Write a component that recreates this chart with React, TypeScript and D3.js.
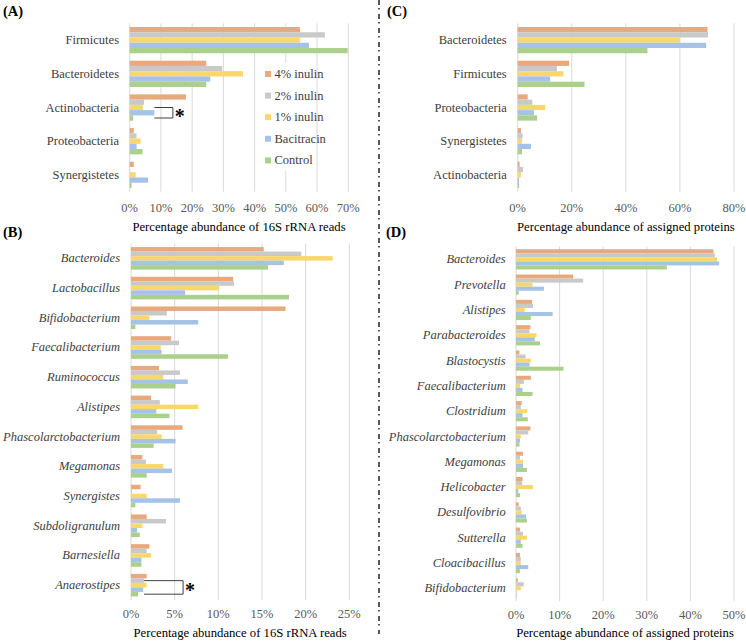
import React from "react";
import * as d3 from "d3";

const series = ["4% inulin", "2% inulin", "1% inulin", "Bacitracin", "Control"];
const colors = ["#E8A97C", "#C9C9C9", "#F9D76B", "#A5C2E7", "#ABD08C"];

const catA = ["Firmicutes", "Bacteroidetes", "Actinobacteria", "Proteobacteria", "Synergistetes"];
const valA = [
  [54.5, 62.5, 54.5, 57.4, 69.8],
  [24.5, 29.6, 36.3, 25.8, 24.5],
  [18.0, 4.6, 4.2, 7.9, 1.1],
  [1.3, 2.2, 3.5, 2.2, 4.1],
  [1.3, 0.1, 1.9, 5.9, 0.6],
];
const ticksA = [0, 10, 20, 30, 40, 50, 60, 70];

const catB = ["Bacteroides", "Lactobacillus", "Bifidobacterium", "Faecalibacterium", "Ruminococcus", "Alistipes", "Phascolarctobacterium", "Megamonas", "Synergistes", "Subdoligranulum", "Barnesiella", "Anaerostipes"];
const valB = [
  [15.2, 19.5, 23.1, 17.5, 15.7],
  [11.7, 11.8, 10.1, 6.2, 18.1],
  [17.7, 4.1, 2.1, 7.7, 0.5],
  [4.6, 5.5, 3.4, 3.5, 11.1],
  [3.2, 5.6, 3.7, 6.5, 5.1],
  [2.3, 3.3, 7.7, 2.9, 4.4],
  [5.9, 3.0, 3.5, 5.1, 2.6],
  [1.3, 1.7, 3.7, 4.7, 1.8],
  [1.1, 0.1, 1.8, 5.6, 0.5],
  [1.8, 4.0, 1.3, 0.7, 1.0],
  [2.1, 1.8, 2.3, 1.2, 1.2],
  [1.8, 1.5, 1.8, 1.4, 0.8],
];
const ticksB = [0, 5, 10, 15, 20, 25];

const catC = ["Bacteroidetes", "Firmicutes", "Proteobacteria", "Synergistetes", "Actinobacteria"];
const valC = [
  [70.2, 70.4, 60.0, 69.7, 48.0],
  [19.0, 14.5, 16.9, 12.0, 24.7],
  [3.7, 5.4, 10.2, 6.0, 7.2],
  [1.2, 1.8, 1.6, 4.9, 1.6],
  [0.7, 2.0, 1.2, 0.5, 0.5],
];
const ticksC = [0, 20, 40, 60, 80];

const catD = ["Bacteroides", "Prevotella", "Alistipes", "Parabacteroides", "Blastocystis", "Faecalibacterium", "Clostridium", "Phascolarctobacterium", "Megamonas", "Helicobacter", "Desulfovibrio", "Sutterella", "Cloacibacillus", "Bifidobacterium"];
const valD = [
  [45.3, 45.6, 46.1, 46.6, 34.6],
  [13.1, 15.4, 3.8, 6.4, 0.6],
  [3.7, 3.9, 2.0, 8.4, 3.4],
  [3.3, 3.1, 4.7, 4.3, 5.5],
  [0.8, 2.2, 3.4, 3.1, 10.9],
  [3.4, 1.8, 0.9, 1.5, 3.8],
  [1.3, 1.1, 2.6, 1.5, 2.7],
  [3.3, 2.8, 1.1, 0.9, 0.8],
  [1.6, 0.9, 1.6, 1.6, 2.5],
  [1.5, 1.4, 3.9, 0.5, 0.9],
  [0.6, 1.1, 1.3, 2.3, 2.5],
  [0.9, 1.6, 2.5, 1.1, 1.5],
  [0.9, 1.1, 1.1, 2.8, 0.9],
  [0.4, 1.8, 1.1, 0.1, 0.1],
];
const ticksD = [0, 10, 20, 30, 40, 50];

const FONT = "Liberation Serif, Times New Roman, DejaVu Serif, serif";
const FS = 12.5;

type PanelProps = {
  cats: string[];
  vals: number[][];
  ticks: number[];
  x0: number;
  x1: number;
  yTop: number;
  yBot: number;
  labelX: number;
  tickY: number;
  titleY: number;
  title: string;
  italic: boolean;
  pad: number;
  children?: (x: d3.ScaleLinear<number, number>, y: d3.ScaleBand<string>, sub: d3.ScaleBand<string>) => React.ReactNode;
};

const txt = { fontFamily: FONT };

function Panel(p: PanelProps) {
  const maxT = p.ticks[p.ticks.length - 1];
  const x = d3.scaleLinear().domain([0, maxT]).range([p.x0, p.x1]);
  const y = d3.scaleBand<string>().domain(p.cats).range([p.yTop, p.yBot]).paddingInner(p.pad).paddingOuter(p.pad / 2);
  const sub = d3.scaleBand<string>().domain(series).range([0, y.bandwidth()]);
  return (
    <g>
      {p.ticks.map((t) => (
        <line key={"g" + t} x1={x(t)} x2={x(t)} y1={p.yTop} y2={p.yBot} stroke="#D9D9D9" strokeWidth={1} />
      ))}
      {p.cats.map((c, i) => (
        <g key={c}>
          {series.map((s, j) => (
            <rect key={s} x={x(0)} y={(y(c) as number) + (sub(s) as number)} width={x(p.vals[i][j]) - x(0)} height={sub.bandwidth()} fill={colors[j]} />
          ))}
          <text style={txt} x={p.labelX} y={(y(c) as number) + y.bandwidth() / 2} textAnchor="end" dominantBaseline="central" fontSize={FS} fill="#404040" fontStyle={p.italic ? "italic" : "normal"}>{c}</text>
        </g>
      ))}
      {p.ticks.map((t) => (
        <text style={txt} key={"t" + t} x={x(t)} y={p.tickY} textAnchor="middle" dominantBaseline="central" fontSize={FS} fill="#595959">{t + "%"}</text>
      ))}
      <text style={txt} x={(p.x0 + p.x1) / 2} y={p.titleY} textAnchor="middle" dominantBaseline="central" fontSize={12.7} fill="#000">{p.title}</text>
      {p.children ? p.children(x, y, sub) : null}
    </g>
  );
}

export default function App() {
  return (
    <svg width={746} height={641} style={{ position: "absolute", left: 0, top: 0, background: "#fff", fontFamily: FONT }}>
      <rect width={746} height={641} fill="#fff" />
      <Panel cats={catA} vals={valA} ticks={ticksA} x0={129.7} x1={348.3} yTop={23.3} yBot={191.7} labelX={119} tickY={208} titleY={226.7} title="Percentage abundance of 16S rRNA reads" italic={false} pad={0.22}>
        {(x, y, sub) => {
          const c = "Actinobacteria";
          const by = y(c) as number;
          const yt = by + (sub("1% inulin") as number) + sub.bandwidth() / 2;
          const yb = by + (sub("Control") as number) + sub.bandwidth() / 2;
          const xl = x(valA[2][3]);
          const xr = xl + 18.5;
          return (
            <g>
              <path d={`M${xl},${yt}H${xr}V${yb}H${xl}`} fill="none" stroke="#404040" strokeWidth={1} />
              <text style={txt} x={xr + 2} y={(yt + yb) / 2 + 10} fontSize={20} fontWeight="bold" fill="#000">*</text>
            </g>
          );
        }}
      </Panel>
      <Panel cats={catB} vals={valB} ticks={ticksB} x0={131} x1={349.3} yTop={243.5} yBot={600} labelX={120} tickY={614} titleY={632.7} title="Percentage abundance of 16S rRNA reads" italic={true} pad={0.24}>
        {(x, y, sub) => {
          const c = "Anaerostipes";
          const by = y(c) as number;
          const yt = by + (sub("2% inulin") as number) + sub.bandwidth() / 2;
          const yb = by + (sub("Control") as number) + sub.bandwidth() / 2;
          const xl = x(valB[11][1]);
          const xr = xl + 39;
          return (
            <g>
              <path d={`M${xl},${yt}H${xr}V${yb}H${xl}`} fill="none" stroke="#404040" strokeWidth={1} />
              <text style={txt} x={xr + 2} y={(yt + yb) / 2 + 10} fontSize={20} fontWeight="bold" fill="#000">*</text>
            </g>
          );
        }}
      </Panel>
      <Panel cats={catC} vals={valC} ticks={ticksC} x0={517.7} x1={734} yTop={23.3} yBot={191.7} labelX={506.7} tickY={208} titleY={226.7} title="Percentage abundance of assigned proteins" italic={false} pad={0.22} />
      <Panel cats={catD} vals={valD} ticks={ticksD} x0={516} x1={734} yTop={246.7} yBot={601} labelX={505.7} tickY={615} titleY={632.7} title="Percentage abundance of assigned proteins" italic={true} pad={0.2} />
      <rect x={262} y={63} width={48} height={108} fill="#fff" />
      {series.map((s, i) => (
        <g key={s}>
          <rect x={265} y={74 + i * 21.6 - 3} width={6} height={6} fill={colors[i]} />
          <text style={txt} x={274.5} y={74 + i * 21.6} dominantBaseline="central" fontSize={FS} fill="#404040">{s}</text>
        </g>
      ))}
      <text style={txt} x={3} y={11} dominantBaseline="central" fontSize={14.5} fontWeight="bold">(A)</text>
      <text style={txt} x={3} y={232} dominantBaseline="central" fontSize={14.5} fontWeight="bold">(B)</text>
      <text style={txt} x={387} y={11} dominantBaseline="central" fontSize={14.5} fontWeight="bold">(C)</text>
      <text style={txt} x={386} y={232} dominantBaseline="central" fontSize={14.5} fontWeight="bold">(D)</text>
      <line x1={379} x2={379} y1={0} y2={634} stroke="#000" strokeWidth={1.3} strokeDasharray="5,3,1.5,4.5" />
    </svg>
  );
}
